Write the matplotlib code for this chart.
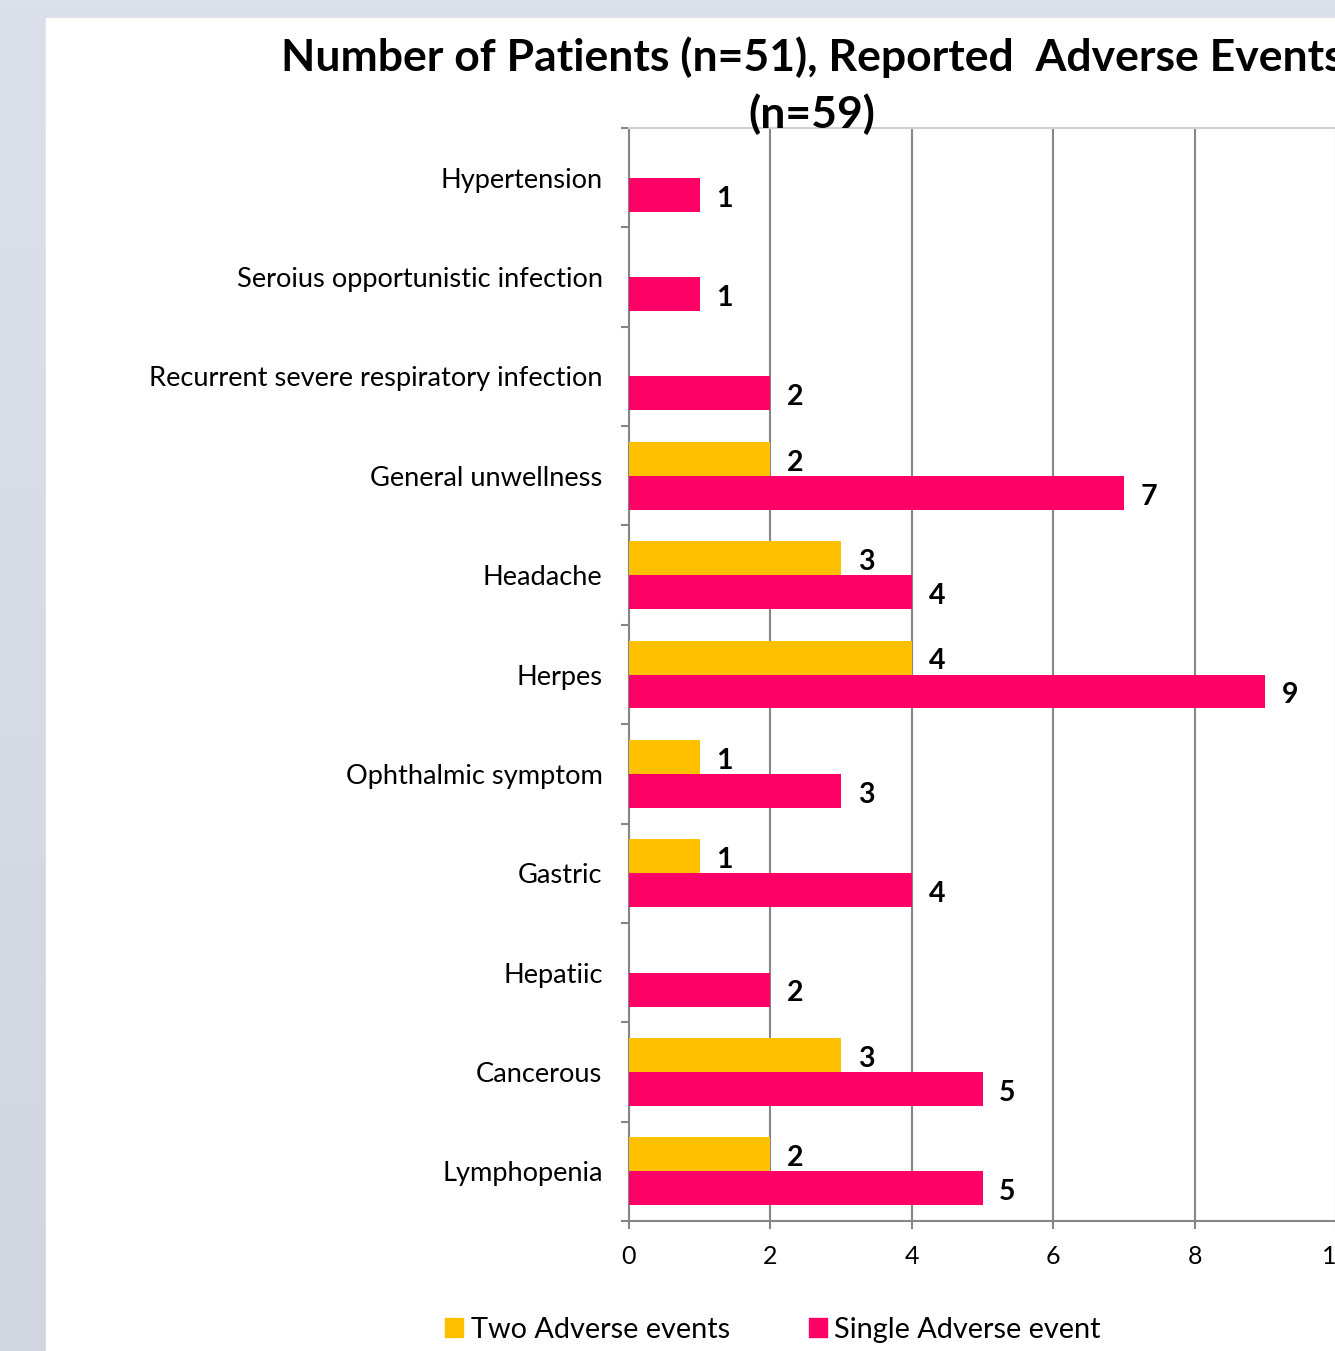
import numpy as np
import matplotlib
matplotlib.use("Agg")
import matplotlib.pyplot as plt
from matplotlib.patches import Rectangle, Patch

categories = ["Hypertension", "Seroius opportunistic infection",
              "Recurrent severe respiratory infection", "General unwellness",
              "Headache", "Herpes", "Ophthalmic symptom", "Gastric",
              "Hepatiic", "Cancerous", "Lymphopenia"]
two_events = [0, 0, 0, 2, 3, 4, 1, 1, 0, 3, 2]
single_event = [1, 1, 2, 7, 4, 9, 3, 4, 2, 5, 5]
x_ticks = [0, 2, 4, 6, 8, 10]
title = "Number of Patients (n=51), Reported  Adverse Events\n(n=59)"
series_names = ["Two Adverse events", "Single Adverse event"]

YELLOW = "#FFC000"
PINK = "#FF0066"
FONT = "Lato"

W, H = 1335, 1351
fig = plt.figure(figsize=(W / 100, H / 100), dpi=100)

# background gradient + white panel
bg = fig.add_axes([0, 0, 1, 1], zorder=-10)
grad = np.linspace(0, 1, 256).reshape(-1, 1)
c_top = np.array([0xDC, 0xE0, 0xEA]) / 255
c_bot = np.array([0xD0, 0xD5, 0xE0]) / 255
img = c_top[None, None, :] * (1 - grad[:, :, None]) + c_bot[None, None, :] * grad[:, :, None]
bg.imshow(img, aspect="auto", extent=[0, 1, 0, 1])
bg.add_patch(Rectangle((46 / W, 0), 1, (H - 18) / H, color="white", transform=bg.transAxes))
bg.set_xlim(0, 1); bg.set_ylim(0, 1)
bg.axis("off")

ax = fig.add_axes([629 / W, 130 / H, 707 / W, 1093 / H])
ax.set_facecolor("none")
y = np.arange(len(categories))
h = 0.342
ax.barh(y - h / 2, two_events, height=h, color=YELLOW, zorder=3)
ax.barh(y + h / 2, single_event, height=h, color=PINK, zorder=3)

for yi, v in zip(y, two_events):
    if v:
        ax.annotate(str(v), (v, yi - h / 2), xytext=(12, -1), textcoords="offset points",
                    va="center_baseline", ha="left", fontsize=20.5, fontweight="bold", family=FONT)
for yi, v in zip(y, single_event):
    ax.annotate(str(v), (v, yi + h / 2), xytext=(12, -1), textcoords="offset points",
                va="center_baseline", ha="left", fontsize=20.5, fontweight="bold", family=FONT)

ax.set_xlim(0, 10)
ax.set_ylim(len(categories) - 0.5, -0.5)
ax.set_xticks(x_ticks)
ax.set_xticklabels([str(t) for t in x_ticks], fontsize=18, family=FONT)
ax.tick_params(axis="x", length=6, width=1.5, color="#868686", pad=11)
ax.set_yticks(np.arange(-0.5, len(categories), 1.0))
ax.set_yticklabels([])
ax.tick_params(axis="y", which="major", length=6, width=1.5, color="#868686")
ax.set_yticks(y, minor=True)
ax.set_yticklabels(categories, minor=True, fontsize=19.6, family=FONT)
ax.tick_params(axis="y", which="minor", length=0, pad=19)

ax.grid(axis="x", color="#868686", linewidth=1.5, zorder=0)
ax.set_axisbelow(True)
for s in ["left", "bottom"]:
    ax.spines[s].set_color("#868686")
    ax.spines[s].set_linewidth(1.5)
ax.spines["top"].set_color("#D0D0D0")
ax.spines["top"].set_linewidth(1.5)
ax.spines["right"].set_visible(False)

fig.text(812 / W, 1 - 36 / H, title, ha="center", va="top", fontsize=32,
         fontweight="bold", family=FONT, linespacing=1.45, zorder=5)

handles = [Patch(color=YELLOW), Patch(color=PINK)]
fig.legend(handles, series_names, loc="center", bbox_to_anchor=(773 / W, 1 - 1330 / H),
           ncol=2, frameon=False, prop={"family": FONT, "size": 20.8},
           handlelength=0.62, handleheight=0.62, handletextpad=0.25, columnspacing=2.74)

fig.savefig("out.png", dpi=100)
